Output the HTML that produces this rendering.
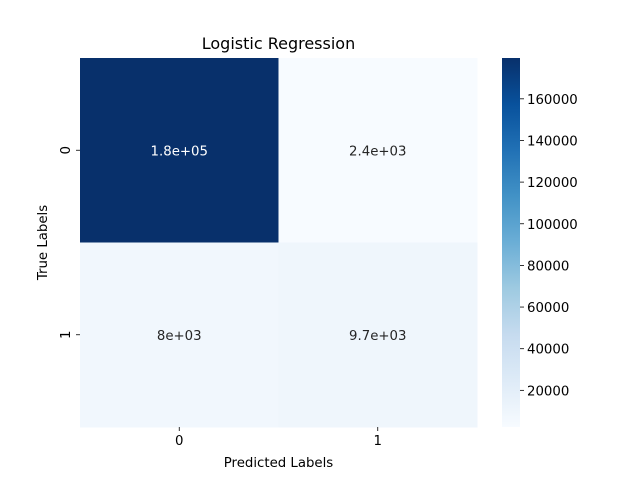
<!DOCTYPE html>
<html><head><meta charset="utf-8"><style>
body{margin:0;background:#fff;}
svg text{font-family:"DejaVu Sans","Liberation Sans",sans-serif;}
</style></head><body>
<svg id="chart" width="640" height="480">
<defs><linearGradient id="cbg" x1="0" y1="1" x2="0" y2="0"></linearGradient></defs>
</svg>
<script>
const rowLabels=["0","1"];
const colLabels=["0","1"];
const values=[[179600,2400],[8000,9700]];
const cellText=[["1.8e+05","2.4e+03"],["8e+03","9.7e+03"]];
const cbTicks=[20000,40000,60000,80000,100000,120000,140000,160000];
const vmin=2400, vmax=179600;
const stops=["#f7fbff","#deebf7","#c6dbef","#9ecae1","#6baed6","#4292c6","#2171b5","#08519c","#08306b"];
function hex(h){return [1,3,5].map(i=>parseInt(h.substr(i,2),16));}
function blues(t){t=Math.max(0,Math.min(1,t));const p=t*8,i=Math.min(7,Math.floor(p)),f=p-i;const a=hex(stops[i]),b=hex(stops[i+1]);return "rgb("+a.map((v,k)=>Math.round(v+(b[k]-v)*f)).join(",")+")";}
const L=80,R=477,T=58,B=427;
const cw=(R-L)/colLabels.length, ch=(B-T)/rowLabels.length;
const xs=j=>L+j*cw, ys=i=>T+i*ch;
const cbX=502,cbW=18;
const cy=v=>B-(v-vmin)/(vmax-vmin)*(B-T);
const svg=document.getElementById('chart');
const NS="http://www.w3.org/2000/svg";
function mk(tag,attrs,txt){const e=document.createElementNS(NS,tag);for(const k in attrs)e.setAttribute(k,attrs[k]);if(txt!==undefined)e.textContent=txt;svg.appendChild(e);return e;}
values.forEach((row,i)=>row.forEach((v,j)=>{
 const t=(v-vmin)/(vmax-vmin);
 const r=mk('rect',{x:xs(j),y:ys(i),width:cw+0.5,height:ch+0.5,fill:blues(t)});
 
 
 const tx=mk('text',{x:xs(j)+cw/2,y:ys(i)+ch/2+5,'text-anchor':'middle','font-size':'13.3',fill:t>0.5?'#ffffff':'#262626'},cellText[i][j]);
 
 
}));
colLabels.forEach((c,j)=>{
 const x=xs(j)+cw/2;
 const tk=mk('line',{x1:x,x2:x,y1:B,y2:B+4,stroke:'#000','stroke-width':0.8});
 
 
 const t=mk('text',{x:x,y:B+18,'text-anchor':'middle','font-size':'13.3',fill:'#000'},c);
 
 
});
rowLabels.forEach((c,i)=>{
 const y=ys(i)+ch/2;
 const tk=mk('line',{x1:L-4,x2:L,y1:y,y2:y,stroke:'#000','stroke-width':0.8});
 
 
 const t=mk('text',{x:L-10,y:y,'text-anchor':'middle','font-size':'13.3',fill:'#000',transform:'rotate(-90 '+(L-10)+' '+y+')'},c);
 
 
});
const grad=document.getElementById('cbg');
stops.forEach((s,k)=>{const st=document.createElementNS(NS,'stop');st.setAttribute('offset',(k/8*100)+'%');st.setAttribute('stop-color',s);grad.appendChild(st);});
const cb=mk('rect',{x:cbX,y:T,width:cbW,height:B-T,fill:'url(#cbg)'});


cbTicks.forEach(v=>{
 const y=cy(v);
 const l=mk('line',{x1:cbX+cbW,x2:cbX+cbW+4,y1:y,y2:y,stroke:'#000','stroke-width':0.8});
 
 
 const t=mk('text',{x:cbX+cbW+7,y:y+5,'font-size':'13.3',fill:'#000'},String(v));
 
 
});
const ti=mk('text',{x:(L+R)/2,y:49,'text-anchor':'middle','font-size':'16',fill:'#000'},'Logistic Regression');


const xl=mk('text',{x:(L+R)/2,y:467,'text-anchor':'middle','font-size':'13.3',fill:'#000'},'Predicted Labels');


const yl=mk('text',{x:47,y:(T+B)/2,'text-anchor':'middle','font-size':'13.3',fill:'#000',transform:'rotate(-90 47 '+((T+B)/2)+')'},'True Labels');


</script>
</body></html>
